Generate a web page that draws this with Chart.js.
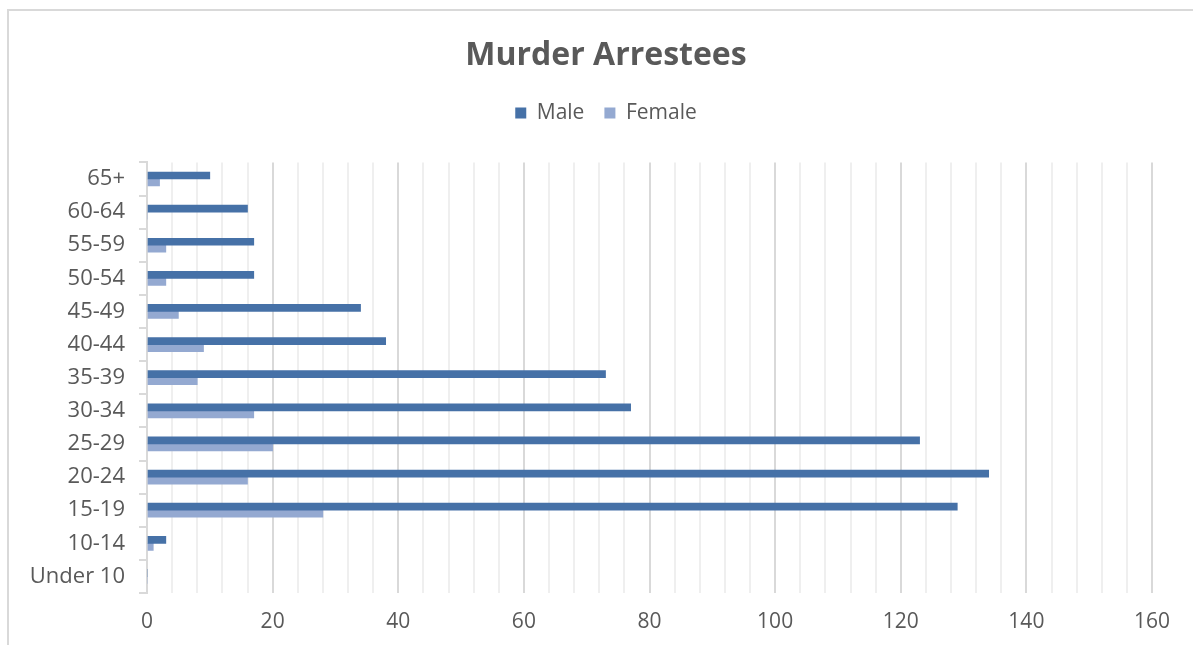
<!DOCTYPE html>
<html>
<head>
<meta charset="utf-8">
<title>Murder Arrestees</title>
<script src="https://cdn.jsdelivr.net/npm/chart.js@4.4.1/dist/chart.umd.min.js"></script>
<style>
  html, body { margin: 0; padding: 0; background: #fff; overflow: hidden; }
  #wrap { position: relative; width: 1193px; height: 645px; }
  #frame {
    position: absolute; left: 7px; top: 9px; right: -10px; bottom: -10px;
    border-left: 2px solid #d9d9d9; border-top: 2px solid #d9d9d9;
    pointer-events: none;
  }
</style>
</head>
<body>
<div id="wrap">
  <canvas id="ctx" width="1193" height="645"></canvas>
  <div id="frame"></div>
</div>
<script>
const ageGroups = ["Under 10", "10-14", "15-19", "20-24", "25-29", "30-34", "35-39",
                   "40-44", "45-49", "50-54", "55-59", "60-64", "65+"];
const maleCounts = [0, 3, 129, 134, 123, 77, 73, 38, 34, 17, 17, 16, 10];
const femaleCounts = [0, 1, 28, 16, 20, 17, 8, 9, 5, 3, 3, 0, 2];
const xMax = 160;
const xMajorStep = 20;
const xMinorStep = 4;

const textGrey = "#595959";
const padLeft = 60;

// leaves some room between the legend and the plot
const legendGap = {
    id: "legendGap",
    beforeInit(chart) {
        const fit = chart.legend.fit;
        chart.legend.fit = function () {
            fit.bind(chart.legend)();
            this.height += 29;
        };
    }
};

// the y labels are wider than the axis box, so let them run into the left padding
const wideLabels = {
    id: "wideLabels",
    afterLayout(chart) {
        chart.scales.y.left = 0;
    }
};

const ctx = document.getElementById("ctx");

const chart = new Chart(ctx, {
    type: "bar",
    data: {
        labels: ageGroups,
        datasets: [{
            label: "Male",
            data: maleCounts,
            backgroundColor: "#4671a7",
            barThickness: 7,
        },
        {
            label: "Female",
            data: femaleCounts,
            backgroundColor: "#94a9d1",
            barThickness: 7,
        }]
    },
    options: {
        indexAxis: "y",
        responsive: false,
        animation: false,
        font: { family: "'Open Sans'" },
        layout: {
            padding: { left: padLeft, right: 41, top: 0, bottom: 0 }
        },
        plugins: {
            title: {
                display: true,
                text: "Murder Arrestees",
                color: textGrey,
                font: { family: "'Open Sans'", size: 32, weight: "bold" },
                padding: { top: 37, bottom: 7 }
            },
            legend: {
                display: true,
                labels: {
                    color: textGrey,
                    boxWidth: 11,
                    boxHeight: 11,
                    padding: 20,
                    font: { family: "'Open Sans'", size: 21 }
                }
            },
            tooltip: { enabled: false }
        },
        scales: {
            x: {
                min: 0,
                max: xMax,
                grid: {
                    drawTicks: false,
                    color: (c) => c.tick && c.tick.value % xMajorStep === 0 ? "#d9d9d9" : "#efefef",
                    lineWidth: 2,
                },
                border: { display: false },
                ticks: {
                    stepSize: xMinorStep,
                    autoSkip: false,
                    maxRotation: 0,
                    padding: 16,
                    color: textGrey,
                    font: { family: "'Open Sans'", size: 21 },
                    callback: (v) => v % xMajorStep === 0 ? v : ""
                },
                afterFit(scale) {
                    scale.height = 52;
                }
            },
            y: {
                reverse: true,
                grid: {
                    drawOnChartArea: false,
                    color: "#d9d9d9",
                    lineWidth: 2,
                    tickLength: 8,
                },
                border: { color: "#d9d9d9", width: 2 },
                ticks: {
                    padding: 14,
                    color: textGrey,
                    font: { family: "'Open Sans'", size: 22 }
                },
                afterFit(scale) {
                    scale.width = 147 - padLeft;
                }
            }
        }
    },
    plugins: [legendGap, wideLabels]
});
</script>
</body>
</html>
